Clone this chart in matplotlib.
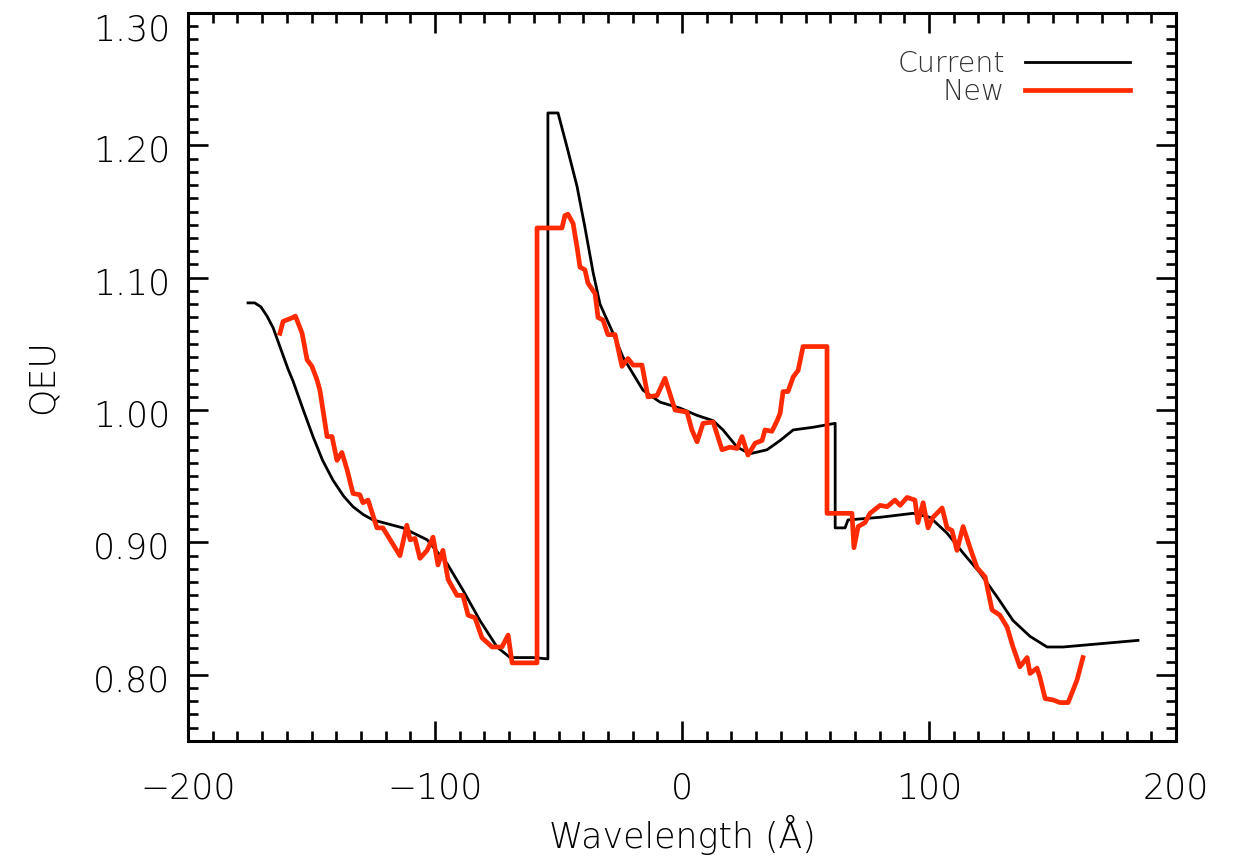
import matplotlib
matplotlib.use("Agg")
import matplotlib.pyplot as plt
from matplotlib.ticker import MultipleLocator, FormatStrFormatter
from matplotlib.transforms import ScaledTranslation

# Current (black)
cur_x = [-175.7, -173.0, -170.5, -168.0, -165.5, -162.8, -159.5, -157.5, -153.5, -149.4, -145.5,
         -141.3, -137.0, -133.2, -129.0, -125.1,
         -113.0, -103.2, -95.1, -88.7, -81.8, -74.9, -69.6, -60.3, -54.3,
         -54.3, -50.2, -46.6, -42.5, -39.3, -36.0, -33.2, -27.9, -23.9, -15.8, -8.9, -0.8,
         6.1, 12.6, 16.6, 22.3, 27.5, 34.4, 39.7, 45.0, 53.0, 62.0,
         62.0, 66.0, 67.2, 80.2, 93.5, 100.4, 107.3, 113.8, 120.6, 127.5, 134.0,
         140.9, 147.8, 154.3, 184.6]
cur_y = [1.081, 1.081, 1.078, 1.071, 1.062, 1.048, 1.031, 1.022, 1.001, 0.980, 0.962,
         0.947, 0.935, 0.927, 0.921, 0.917,
         0.911, 0.902, 0.884, 0.864, 0.841, 0.821, 0.813, 0.813, 0.812,
         1.2245, 1.2245, 1.199, 1.169, 1.138, 1.104, 1.080, 1.058, 1.040, 1.015, 1.006, 1.0015,
         0.996, 0.992, 0.985, 0.972, 0.967, 0.970, 0.977, 0.985, 0.987, 0.990,
         0.911, 0.911, 0.917, 0.919, 0.922, 0.919, 0.907, 0.892, 0.877, 0.859, 0.841,
         0.829, 0.821, 0.821, 0.826]

# New (red)
new_x = [-162.8, -161.5, -157.5, -156.5, -153.8, -151.8, -149.8, -147.8, -146.6, -143.7, -141.7,
         -139.7, -137.7, -135.6, -133.2, -130.4, -129.2, -127.1, -123.5, -121.1, -114.2, -111.4,
         -110.1, -108.1, -106.1, -103.2, -100.8, -98.8, -96.8, -94.7, -91.1, -88.7, -86.6, -83.8,
         -81.0, -76.9, -72.9, -70.4, -68.8, -58.7,
         -58.7, -48.6, -47.4, -46.2, -44.1, -42.5, -41.3, -39.3, -38.1, -35.2, -34.0, -32.0,
         -30.0, -27.1, -24.3, -21.9, -19.8, -16.2, -13.8, -10.1, -6.9, -2.8, 2.0, 4.0, 6.1,
         8.5, 12.6, 16.2, 19.4, 22.3, 24.3, 26.7, 29.6, 32.4, 33.6, 36.4, 38.5, 39.7, 40.9,
         42.9, 45.0, 47.0, 49.0, 58.7,
         58.7, 68.8, 69.6, 71.3, 74.1, 76.1, 80.2, 83.0, 86.2, 88.3, 91.1, 94.3, 95.5, 97.6,
         99.6, 101.6, 105.3, 107.3, 109.3, 111.3, 113.8, 116.6, 119.4, 122.7, 125.5, 128.7,
         131.6, 134.0, 136.8, 139.7, 140.9, 143.7, 144.9, 147.0, 150.2, 153.0, 156.3, 159.9,
         162.3]
new_y = [1.058, 1.067, 1.070, 1.071, 1.058, 1.038, 1.033, 1.023, 1.015, 0.980, 0.980,
         0.962, 0.968, 0.955, 0.937, 0.936, 0.930, 0.932, 0.911, 0.911, 0.890, 0.913,
         0.902, 0.903, 0.888, 0.894, 0.904, 0.883, 0.894, 0.872, 0.860, 0.860, 0.845, 0.843,
         0.828, 0.821, 0.821, 0.830, 0.809, 0.809,
         1.1376, 1.1376, 1.147, 1.148, 1.141, 1.123, 1.108, 1.106, 1.096, 1.088, 1.070, 1.068,
         1.057, 1.057, 1.033, 1.039, 1.034, 1.034, 1.010, 1.011, 1.024, 1.000, 0.9985, 0.985, 0.976,
         0.990, 0.991, 0.970, 0.972, 0.971, 0.980, 0.966, 0.975, 0.977, 0.985, 0.984, 0.992, 0.9975, 1.014,
         1.014, 1.025, 1.030, 1.048, 1.048,
         0.922, 0.922, 0.896, 0.912, 0.915, 0.922, 0.928, 0.927, 0.932, 0.928, 0.934, 0.932, 0.915, 0.930,
         0.911, 0.919, 0.926, 0.911, 0.909, 0.894, 0.912, 0.896, 0.881, 0.874, 0.849, 0.845,
         0.836, 0.821, 0.806, 0.813, 0.801, 0.805, 0.798, 0.782, 0.781, 0.779, 0.779, 0.796,
         0.813]

labels = ["Current", "New"]

plt.rcParams['font.family'] = ['DejaVu Sans']
plt.rcParams['font.weight'] = 'light'
plt.rcParams['axes.labelweight'] = 'light'
fig = plt.figure(figsize=(12.36, 8.57), dpi=100)
ax = fig.add_axes([0.1521, 0.1354, 0.7994, 0.8494])

ax.plot(cur_x, cur_y, color='black', lw=2.0, label=labels[0])
ax.plot(new_x, new_y, color='#ff2a00', lw=3.4, label=labels[1])

ax.set_xlim(-200, 200)
ax.set_ylim(0.75, 1.30)
ax.xaxis.set_major_locator(MultipleLocator(100))
ax.xaxis.set_minor_locator(MultipleLocator(10))
ax.yaxis.set_major_locator(MultipleLocator(0.1))
ax.yaxis.set_minor_locator(MultipleLocator(0.01))
ax.yaxis.set_major_formatter(FormatStrFormatter('%.2f'))

for s in ax.spines.values():
    s.set_linewidth(2.2)
ax.tick_params(which='both', direction='in', top=True, right=True, width=1.9)
ax.tick_params(which='major', length=14.4, labelsize=25)
ax.tick_params(which='minor', length=7.2)
ax.tick_params(axis='x', which='major', pad=22)
ax.tick_params(axis='y', which='major', pad=13)

ax.set_xlabel('Wavelength (Å)', fontsize=25, labelpad=7, fontweight='light')
ax.set_ylabel('QEU', fontsize=25, labelpad=24, fontweight='light')

leg = ax.legend(loc='upper right', frameon=False, markerfirst=False, fontsize=20.5,
                handlelength=3.7, handletextpad=0.7, labelspacing=0.0,
                borderpad=0, borderaxespad=0, bbox_to_anchor=(0.9534, 0.949))
for t in leg.get_texts():
    t.set_color('#333333')

fig.canvas.draw()
for tick in ax.yaxis.get_major_ticks():
    val = tick.get_loc()
    dy = -14 if abs(val - 1.30) < 1e-6 else -3
    tick.label1.set_transform(tick.label1.get_transform() +
                              ScaledTranslation(0, dy / 100.0, fig.dpi_scale_trans))

fig.savefig('out.png', dpi=100)
